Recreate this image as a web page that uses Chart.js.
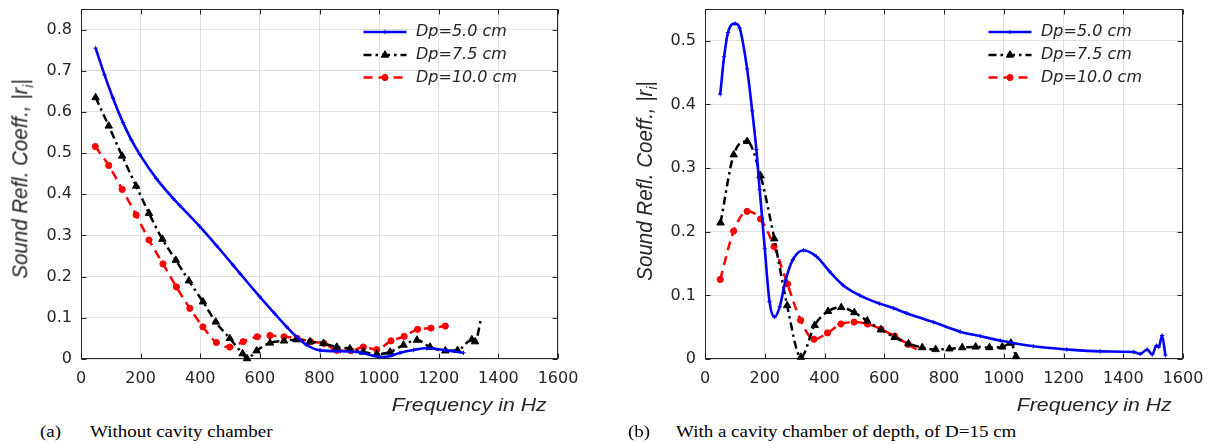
<!DOCTYPE html>
<html>
<head>
<meta charset="utf-8">
<script src="https://cdn.jsdelivr.net/npm/chart.js@4.4.1/dist/chart.umd.min.js"></script>
<style>
html,body{margin:0;padding:0;background:#fff;}
body{width:1212px;height:444px;position:relative;overflow:hidden;}
canvas{position:absolute;top:0;}
.xt{position:absolute;top:396px;font:italic 18.5px "Liberation Sans",Arial,sans-serif;color:#262626;line-height:1;white-space:nowrap;transform:scaleX(1.15);transform-origin:right top;}
.yt{position:absolute;font:italic 20.5px "Liberation Sans",Arial,sans-serif;color:#262626;line-height:1;white-space:nowrap;transform:translate(-50%,-50%) rotate(-90deg) scaleY(1.12);}
.yt .sub{font-size:13px;position:relative;top:5px;}
.cap{position:absolute;top:422px;font:16.5px "Liberation Serif","Times New Roman",serif;color:#000;line-height:20px;white-space:nowrap;transform:scaleX(1.15);transform-origin:left top;}
</style>
</head>
<body>
<canvas id="chartA" width="600" height="400" style="left:0px;width:600px;height:400px;"></canvas>
<canvas id="chartB" width="612" height="400" style="left:600px;width:612px;height:400px;"></canvas>

<div class="yt" style="left:19.5px;top:179px;">Sound Refl. Coeff., |r<span class="sub">i</span>|</div>
<div class="yt" style="left:644px;top:181px;">Sound Refl. Coeff., |r<span class="sub">i</span>|</div>
<div class="xt" style="right:665px;">Frequency in Hz</div>
<div class="xt" style="right:40px;">Frequency in Hz</div>
<div class="cap" style="left:40px;">(a)</div>
<div class="cap" style="left:90px;">Without cavity chamber</div>
<div class="cap" style="left:628px;">(b)</div>
<div class="cap" style="left:676px;">With a cavity chamber of depth, of D=15 cm</div>

<script>
// ---------- tick labels ----------
const X_TICKS = [0, 200, 400, 600, 800, 1000, 1200, 1400, 1600];
const Y_TICKS_A = [0, 0.1, 0.2, 0.3, 0.4, 0.5, 0.6, 0.7, 0.8];
const Y_TICKS_B = [0, 0.1, 0.2, 0.3, 0.4, 0.5];
const SERIES_LABELS = ['Dp=5.0 cm', 'Dp=7.5 cm', 'Dp=10.0 cm'];

// ---------- (a) without cavity chamber ----------
const freqA_dp50 = [49, 79, 107, 141, 169, 197, 253, 309, 331, 398, 455, 510, 534, 600, 650, 690, 720, 757, 802, 870, 936, 1003, 1030, 1070, 1115, 1160, 1227, 1283];
const reflA_dp50 = [0.755, 0.690, 0.634, 0.574, 0.532, 0.497, 0.438, 0.390, 0.373, 0.322, 0.275, 0.228, 0.207, 0.151, 0.110, 0.078, 0.056, 0.034, 0.021, 0.019, 0.016, 0.005, 0.006, 0.015, 0.022, 0.026, 0.021, 0.015];

const freqA_dp75 = [49, 93, 138, 185, 228, 273, 318, 362, 409, 452, 499, 542, 557, 589, 634, 681, 723, 768, 813, 858, 902, 947, 992, 1037, 1082, 1127, 1171, 1222, 1263, 1311, 1322, 1342];
const reflA_dp75 = [0.635, 0.566, 0.493, 0.420, 0.354, 0.291, 0.240, 0.190, 0.139, 0.090, 0.050, 0.013, 0.001, 0.020, 0.039, 0.044, 0.047, 0.042, 0.038, 0.029, 0.025, 0.017, 0.012, 0.017, 0.034, 0.046, 0.029, 0.020, 0.021, 0.047, 0.042, 0.098];

const freqA_dp100 = [48, 93, 138, 185, 228, 275, 320, 365, 409, 454, 499, 544, 591, 634, 681, 725, 770, 815, 858, 905, 947, 992, 1040, 1084, 1129, 1174, 1222];
const reflA_dp100 = [0.516, 0.470, 0.412, 0.350, 0.289, 0.231, 0.175, 0.123, 0.078, 0.040, 0.029, 0.042, 0.054, 0.057, 0.054, 0.050, 0.042, 0.038, 0.021, 0.020, 0.029, 0.023, 0.044, 0.055, 0.072, 0.075, 0.080];

// ---------- (b) with cavity chamber, D = 15 cm ----------
const freqB_dp50 = [51, 64, 77, 101, 116, 141, 158, 172, 183, 200, 216, 233, 250, 270, 294, 330, 373, 418, 462, 518, 585, 630, 675, 764, 854, 921, 988, 1099, 1211, 1323, 1435, 1457, 1480, 1497, 1511, 1519, 1530, 1541];
const reflB_dp50 = [0.416, 0.475, 0.513, 0.527, 0.520, 0.456, 0.390, 0.329, 0.266, 0.174, 0.090, 0.066, 0.082, 0.124, 0.156, 0.171, 0.161, 0.137, 0.116, 0.100, 0.087, 0.080, 0.072, 0.058, 0.043, 0.036, 0.029, 0.020, 0.015, 0.012, 0.011, 0.008, 0.015, 0.007, 0.021, 0.019, 0.037, 0.006];

const freqB_dp75 = [52, 96, 141, 186, 232, 275, 321, 367, 412, 456, 500, 543, 589, 635, 681, 727, 772, 818, 861, 906, 952, 995, 1024, 1041];
const reflB_dp75 = [0.214, 0.321, 0.342, 0.288, 0.189, 0.084, 0.003, 0.053, 0.075, 0.081, 0.073, 0.060, 0.046, 0.034, 0.024, 0.018, 0.015, 0.016, 0.018, 0.019, 0.018, 0.019, 0.025, 0.004];

const freqB_dp100 = [51, 96, 141, 186, 231, 276, 320, 365, 410, 455, 499, 544, 589, 635, 680, 708];
const reflB_dp100 = [0.125, 0.201, 0.232, 0.220, 0.177, 0.118, 0.061, 0.031, 0.041, 0.055, 0.058, 0.055, 0.047, 0.036, 0.023, 0.015];

// ---------- styling ----------
const TXT = '#262626';
Chart.defaults.font.family = '"DejaVu Sans", "Liberation Sans", sans-serif';
Chart.defaults.font.size = 16;
Chart.defaults.color = TXT;

function pts(f, v) { return f.map((x, i) => ({ x: x, y: v[i] })); }

function radiusFn(r) {
  return (c) => (c.dataset.hideLastMarker && c.dataIndex === c.dataset.data.length - 1) ? 0 : r;
}

function makeDatasets(f1, v1, f2, v2, f3, v3, hide2, hide3) {
  return [
    { label: SERIES_LABELS[0], data: pts(f1, v1), borderColor: '#0000ff', backgroundColor: '#0000ff',
      borderWidth: 2.6, pointStyle: 'cross', pointRadius: 2.2, pointBorderWidth: 1, pointBorderColor: '#0000ff',
      legendR: 2.2 },
    { label: SERIES_LABELS[1], data: pts(f2, v2), borderColor: '#000000', backgroundColor: '#000000',
      borderWidth: 2.5, borderDash: [8, 4, 2.5, 4], pointStyle: 'triangle', pointRadius: radiusFn(4.3),
      pointBorderWidth: 1, pointBorderColor: '#000000', pointBackgroundColor: '#000000', hideLastMarker: hide2,
      legendR: 4.3 },
    { label: SERIES_LABELS[2], data: pts(f3, v3), borderColor: '#ff0000', backgroundColor: '#ff0000',
      borderWidth: 2.5, borderDash: [9, 6], pointStyle: 'circle', pointRadius: radiusFn(3.1),
      pointBorderWidth: 1, pointBorderColor: '#ff0000', pointBackgroundColor: '#ff0000', hideLastMarker: hide3,
      legendR: 3.1 }
  ];
}

function drawMarker(ctx, style, x, y, r, color) {
  ctx.save();
  ctx.fillStyle = color; ctx.strokeStyle = color; ctx.lineWidth = 1; ctx.setLineDash([]);
  ctx.beginPath();
  if (style === 'triangle') {
    ctx.moveTo(x, y - r);
    ctx.lineTo(x + r * 0.866, y + r * 0.5);
    ctx.lineTo(x - r * 0.866, y + r * 0.5);
    ctx.closePath(); ctx.fill(); ctx.stroke();
  } else if (style === 'circle') {
    ctx.arc(x, y, r, 0, Math.PI * 2); ctx.fill(); ctx.stroke();
  } else {
    ctx.moveTo(x - r, y); ctx.lineTo(x + r, y); ctx.moveTo(x, y - r); ctx.lineTo(x, y + r); ctx.stroke();
  }
  ctx.restore();
}

const framePlugin = {
  id: 'frame',
  beforeDatasetsDraw(chart) {
    const ctx = chart.ctx, a = chart.chartArea, xs = chart.scales.x, ys = chart.scales.y;
    const L = Math.round(a.left) + 0.5, R = Math.round(a.right) - 0.5, T = Math.round(a.top) + 0.5, B = Math.round(a.bottom) - 0.5;
    ctx.save();
    ctx.strokeStyle = TXT; ctx.lineWidth = 1;
    ctx.strokeRect(L, T, R - L, B - T);
    const tl = 5;
    ctx.beginPath();
    xs.ticks.forEach(t => {
      const px = Math.round(xs.getPixelForValue(t.value)) + 0.5;
      ctx.moveTo(px, B); ctx.lineTo(px, B - tl);
      ctx.moveTo(px, T); ctx.lineTo(px, T + tl);
    });
    ys.ticks.forEach(t => {
      const py = Math.round(ys.getPixelForValue(t.value)) + 0.5;
      ctx.moveTo(L, py); ctx.lineTo(L + tl, py);
      ctx.moveTo(R, py); ctx.lineTo(R - tl, py);
    });
    ctx.stroke();
    ctx.restore();
  },
  afterDatasetsDraw(chart, args, opts) {
    const ctx = chart.ctx, a = chart.chartArea;
    const x0 = a.right + opts.lineStart, x1 = a.right + opts.lineEnd, tx = a.right + opts.textStart;
    chart.data.datasets.forEach((ds, i) => {
      const y = opts.rows[i];
      ctx.save();
      ctx.strokeStyle = ds.borderColor; ctx.lineWidth = ds.borderWidth;
      ctx.setLineDash(ds.borderDash || []);
      ctx.beginPath(); ctx.moveTo(x0, y); ctx.lineTo(x1, y); ctx.stroke();
      ctx.restore();
      drawMarker(ctx, ds.pointStyle, (x0 + x1) / 2, y, ds.legendR, ds.borderColor);
      ctx.save();
      ctx.fillStyle = TXT;
      ctx.font = 'italic 16px "DejaVu Sans", sans-serif';
      ctx.textAlign = 'left'; ctx.textBaseline = 'middle';
      ctx.fillText(ds.label, tx, y);
      ctx.restore();
    });
  }
};

function fmt(v) { return v === 0 ? '0' : String(Number(v.toFixed(2))); }

function makeChart(id, datasets, yTicks, yMax, yWidth, padRight, legendOpts) {
  return new Chart(document.getElementById(id), {
    type: 'line',
    data: { datasets: datasets },
    plugins: [framePlugin],
    options: {
      responsive: false,
      animation: false,
      devicePixelRatio: 1,
      layout: { padding: { top: 9, right: padRight, left: 0, bottom: 0 } },
      elements: { line: { cubicInterpolationMode: 'monotone', fill: false } },
      datasets: { line: { clip: 8 } },
      plugins: {
        legend: { display: false },
        tooltip: { enabled: false },
        frame: legendOpts
      },
      scales: {
        x: {
          type: 'linear',
          min: X_TICKS[0], max: X_TICKS[X_TICKS.length - 1],
          afterBuildTicks: s => { s.ticks = X_TICKS.map(v => ({ value: v })); },
          afterFit: s => { s.height = 41; s.paddingLeft = 0; s.paddingRight = 0; },
          grid: { color: '#e0e0e0', lineWidth: 1, drawTicks: false },
          border: { display: false },
          ticks: { padding: 10, color: TXT, maxRotation: 0, autoSkip: false, callback: v => String(v) }
        },
        y: {
          type: 'linear',
          min: 0, max: yMax,
          afterBuildTicks: s => { s.ticks = yTicks.map(v => ({ value: v })); },
          afterFit: s => { s.width = yWidth; s.paddingTop = 0; s.paddingBottom = 0; },
          grid: { color: '#e0e0e0', lineWidth: 1, drawTicks: false },
          border: { display: false },
          ticks: { padding: 9, color: TXT, autoSkip: false, callback: v => fmt(v) }
        }
      }
    }
  });
}

makeChart('chartA',
  makeDatasets(freqA_dp50, reflA_dp50, freqA_dp75, reflA_dp75, freqA_dp100, reflA_dp100, true, false),
  Y_TICKS_A, 0.85, 81, 42,
  { lineStart: -194.5, lineEnd: -151.5, textStart: -142, rows: [32, 55, 77.5] });

makeChart('chartB',
  makeDatasets(freqB_dp50, reflB_dp50, freqB_dp75, reflB_dp75, freqB_dp100, reflB_dp100, false, true),
  Y_TICKS_B, 0.55, 105, 29,
  { lineStart: -194.5, lineEnd: -151.5, textStart: -142, rows: [32, 55, 77.5] });
</script>
</body>
</html>
